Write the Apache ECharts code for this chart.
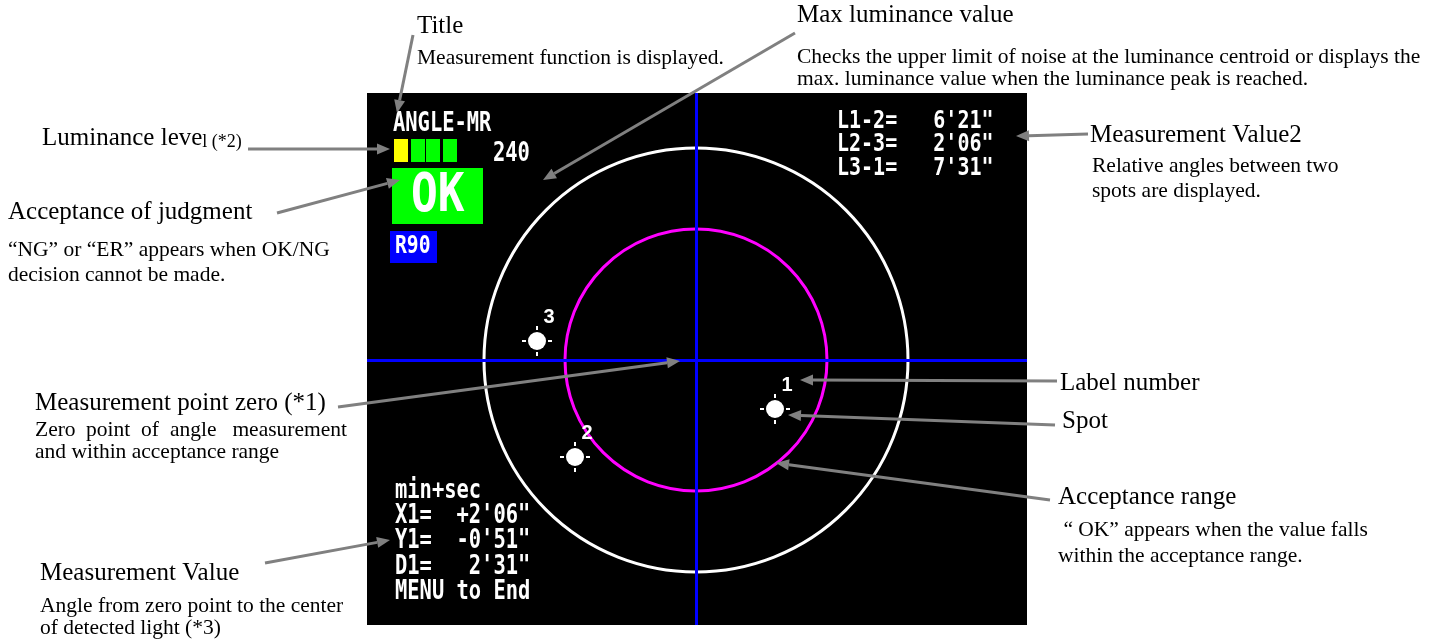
<!DOCTYPE html>
<html>
<head>
<meta charset="utf-8">
<script src="https://cdn.jsdelivr.net/npm/echarts@6/dist/echarts.min.js"></script>
<style>html,body{margin:0;padding:0;background:#fff;}#c{width:1433px;height:642px;}</style>
</head>
<body>
<div id="c"></div>
<script>
// ---- data ----
const ringRadii = [212, 131];             // acceptance circles (screen units)
const spotX = [79, -121, -159];           // spot centres, x
const spotY = [-49, -97, 19];             // spot centres, y
const spotLabels = ['1', '2', '3'];
const screenTitle = 'ANGLE-MR';
const maxLuminance = '240';
const judgement = 'OK';
const rangeLabel = 'R90';
const luminanceLevel = ['#ffff00', '#00ff00', '#00ff00', '#00ff00'];
const relativeLines = ['L1-2=   6\'21"', 'L2-3=   2\'06"', 'L3-1=   7\'31"'];
const measureLines = ['min+sec', 'X1=  +2\'06"', 'Y1=  -0\'51"', 'D1=   2\'31"', 'MENU to End'];

// ---- chart ----
const chart = echarts.init(document.getElementById('c'), null, {renderer: 'canvas'});
const SERIF = 'Liberation Serif, Times New Roman, serif';
const MONO = 'DejaVu Sans Mono, monospace';
const GREY = '#808080';

function arrow(x1, y1, x2, y2) {
  const dx = x2 - x1, dy = y2 - y1, L = Math.hypot(dx, dy), ux = dx / L, uy = dy / L;
  const hl = 13, hw = 5.5;
  const bx = x2 - ux * hl, by = y2 - uy * hl;
  return [
    {type: 'line', z: 100, shape: {x1: x1, y1: y1, x2: bx, y2: by}, style: {stroke: GREY, lineWidth: 3}},
    {type: 'polygon', z: 100, shape: {points: [[x2, y2], [bx - uy * hw, by + ux * hw], [bx + uy * hw, by - ux * hw]]}, style: {fill: GREY}}
  ];
}
function txt(x, y, text, size, align) {
  return {type: 'text', z: 100, x: x, y: y,
    style: {text: text, font: size + 'px ' + SERIF, fill: '#000', textVerticalAlign: 'middle', textAlign: align || 'left'}};
}
function scr(x, y, text, size, sx) {
  return {type: 'text', z: 50, x: x, y: y, scaleX: sx,
    style: {text: text, font: 'bold ' + size + 'px ' + MONO, fill: '#fff', textVerticalAlign: 'middle', textAlign: 'left'}};
}

const H = 25, D = 21.5;
let els = [];
// annotations
els.push(txt(417, 26, 'Title', H));
els.push(txt(417, 58, 'Measurement function is displayed.', D));
els.push(txt(797, 15, 'Max luminance value', H));
els.push(txt(797, 57, 'Checks the upper limit of noise at the luminance centroid or displays the', D));
els.push(txt(797, 79, 'max. luminance value when the luminance peak is reached.', D));
els.push({type: 'text', z: 100, x: 42, y: 151, style: {text: '{a|Luminance leve}{b|l (*2)}', fill: '#000', textVerticalAlign: 'bottom',
  rich: {a: {font: H + 'px ' + SERIF, fill: '#000', verticalAlign: 'bottom'}, b: {font: '18px ' + SERIF, fill: '#000', verticalAlign: 'bottom'}}}});
els.push(txt(8, 212, 'Acceptance of judgment', H));
els.push(txt(8, 250, '\u201cNG\u201d or \u201cER\u201d appears when OK/NG', D));
els.push(txt(8, 275, 'decision cannot be made.', D));
els.push(txt(35, 403, 'Measurement point zero (*1)', H));
els.push(txt(35, 430, 'Zero', D));
els.push(txt(86, 430, 'point', D));
els.push(txt(141, 430, 'of', D));
els.push(txt(170, 430, 'angle', D));
els.push(txt(347, 430, 'measurement', D, 'right'));
els.push(txt(35, 452, 'and within acceptance range', D));
els.push(txt(40, 573, 'Measurement Value', H));
els.push(txt(40, 606, 'Angle from zero point to the center', D));
els.push(txt(40, 628, 'of detected light (*3)', D));
els.push(txt(1090, 135, 'Measurement Value2', H));
els.push(txt(1092, 166, 'Relative angles between two', D));
els.push(txt(1092, 191, 'spots are displayed.', D));
els.push(txt(1060, 383, 'Label number', H));
els.push(txt(1062, 421, 'Spot', H));
els.push(txt(1058, 497, 'Acceptance range', H));
els.push(txt(1058, 530, ' \u201c OK\u201d appears when the value falls', D));
els.push(txt(1058, 556, 'within the acceptance range.', D));
// arrows
els = els.concat(arrow(413, 35, 397, 113));
els = els.concat(arrow(795, 33, 543, 180));
els = els.concat(arrow(248, 149, 390, 149));
els = els.concat(arrow(277, 213, 400, 180));
els = els.concat(arrow(338, 407, 680, 361));
els = els.concat(arrow(265, 563, 390, 540));
els = els.concat(arrow(1088, 134, 1016, 136));
els = els.concat(arrow(1057, 381, 800, 380));
els = els.concat(arrow(1055, 425, 788, 415));
els = els.concat(arrow(1050, 500, 776, 463));
// screen contents
const lumX = [394, 411, 426, 443];
luminanceLevel.forEach((c, i) => {
  els.push({type: 'rect', z: 50, shape: {x: lumX[i], y: 139, width: 14, height: 23}, style: {fill: c}});
});
els.push(scr(393, 124, screenTitle, 26, 0.786));
els.push(scr(493, 154, maxLuminance, 26, 0.786));
els.push({type: 'rect', z: 50, shape: {x: 392, y: 168, width: 91, height: 56}, style: {fill: '#00ff00'}});
els.push(scr(411, 197, judgement, 53, 0.84));
els.push({type: 'rect', z: 50, shape: {x: 390, y: 231, width: 47, height: 32}, style: {fill: '#0000ff'}});
els.push(scr(395, 247, rangeLabel, 24, 0.82));
relativeLines.forEach((t, i) => els.push(scr(837, 121 + i * 23.5, t, 25, 0.8)));
measureLines.forEach((t, i) => els.push(scr(395, 491 + i * 25.3, t, 26, 0.786)));

const option = {
  animation: false,
  backgroundColor: '#fff',
  grid: {left: 367, top: 93, width: 660, height: 532, show: true, backgroundColor: '#000', borderWidth: 0},
  xAxis: {type: 'value', min: -329, max: 331, show: false},
  yAxis: {type: 'value', min: -265, max: 267, show: false},
  graphic: {elements: els},
  series: [
    {
      type: 'custom', name: 'rings',
      data: ringRadii.map(r => [0, 0, r]),
      renderItem: function (params, api) {
        const c = api.coord([api.value(0), api.value(1)]);
        const r = api.size([api.value(2), 0])[0];
        return {type: 'circle', shape: {cx: c[0], cy: c[1], r: r},
          style: {fill: 'none', stroke: params.dataIndex === 0 ? '#ffffff' : '#ff00ff', lineWidth: 3}};
      },
      markLine: {
        silent: true, symbol: 'none', label: {show: false},
        lineStyle: {color: '#0000ff', width: 3, type: 'solid'},
        data: [{xAxis: 0}, {yAxis: 0}]
      },
      z: 3
    },
    {
      type: 'custom', name: 'spots',
      data: spotX.map((x, i) => [x, spotY[i]]),
      renderItem: function (params, api) {
        const p = api.coord([api.value(0), api.value(1)]);
        const lab = spotLabels[params.dataIndex];
        const W = {fill: '#fff'};
        return {type: 'group', children: [
          {type: 'circle', shape: {cx: p[0], cy: p[1], r: 9}, style: W},
          {type: 'rect', shape: {x: p[0] - 1, y: p[1] - 15, width: 2, height: 4}, style: W},
          {type: 'rect', shape: {x: p[0] - 1, y: p[1] + 11, width: 2, height: 4}, style: W},
          {type: 'rect', shape: {x: p[0] - 15, y: p[1] - 1, width: 4, height: 2}, style: W},
          {type: 'rect', shape: {x: p[0] + 11, y: p[1] - 1, width: 4, height: 2}, style: W},
          {type: 'text', x: p[0] + 12, y: p[1] - 24, style: {text: lab, font: 'bold 20px Liberation Sans, Arial, sans-serif', fill: '#fff', textAlign: 'center', textVerticalAlign: 'middle'}}
        ]};
      },
      z: 4
    }
  ]
};
chart.setOption(option);
</script>
</body>
</html>
